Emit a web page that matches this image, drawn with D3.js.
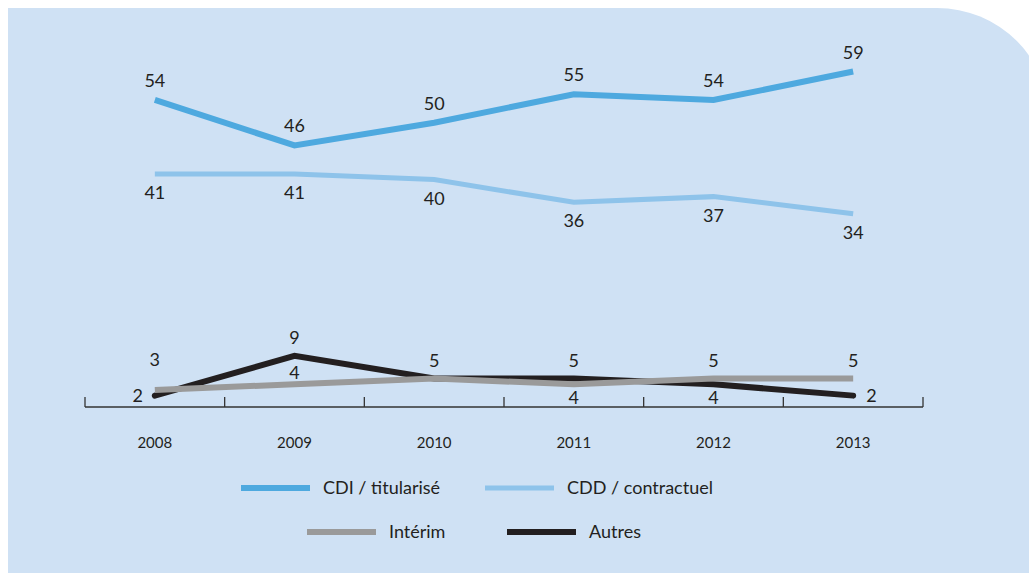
<!DOCTYPE html>
<html><head><meta charset="utf-8">
<script src="https://cdn.jsdelivr.net/npm/d3@7"></script>
<style>
html,body{margin:0;padding:0;background:#fff;}
svg{display:block;}
text{font-family:Lato,"Noto Sans",sans-serif;fill:#231f20;}
</style></head>
<body>
<svg id="c" width="1029" height="573"></svg>
<script>
const years = ["2008","2009","2010","2011","2012","2013"];
const cdi = [54, 46, 50, 55, 54, 59];
const cdd = [41, 41, 40, 36, 37, 34];
const interim = [3, 4, 5, 4, 5, 5];
const autres = [2, 9, 5, 5, 4, 2];
const seriesNames = ["CDI / titularisé", "CDD / contractuel", "Intérim", "Autres"];

const colors = {cdi:"#4ea9df", cdd:"#8ec3ea", interim:"#9a9a9a", autres:"#231f20"};

const svg = d3.select("#c");
// panel
const px0 = 8, py0 = 8, px1 = 1050, py1 = 573, r = 113;
svg.append("path")
  .attr("d", `M${px0},${py0} H${px1 - r} A${r},${r} 0 0 1 ${px1},${py0 + r} V${py1} H${px0} Z`)
  .attr("fill", "#cfe1f4");

const x = d3.scaleBand().domain(years).range([85, 923]);
const cx = d => x(d) + x.bandwidth() / 2;
const y = d3.scaleLinear().domain([0, 70]).range([407, 9]);

// axis
const axisG = svg.append("g").attr("transform", "translate(0,407)");
axisG.append("line").attr("x1", 85).attr("x2", 923).attr("stroke", "#333").attr("stroke-width", 1.3);
const tickPos = years.map(yv => x(yv)).concat([x(years[years.length-1]) + x.bandwidth()]);
axisG.selectAll("line.t").data(tickPos).join("line").attr("class","t")
  .attr("x1", d => d).attr("x2", d => d).attr("y1", -10).attr("y2", 0)
  .attr("stroke", "#333").attr("stroke-width", 1.3);
axisG.selectAll("text.yr").data(years).join("text").attr("class","yr")
  .attr("x", d => cx(d)).attr("y", 41).attr("text-anchor","middle")
  .attr("font-size", 15).text(d => d);

const line = d3.line().x((d,i) => cx(years[i])).y(d => y(d));
function drawLine(data, color, w, cap){
  svg.append("path").datum(data).attr("d", line).attr("fill","none")
    .attr("stroke", color).attr("stroke-width", w).attr("stroke-linecap", cap).attr("stroke-linejoin","miter");
}
drawLine(cdi, colors.cdi, 6, "butt");
drawLine(cdd, colors.cdd, 5, "butt");
drawLine(autres, colors.autres, 6, "round");
drawLine(interim, colors.interim, 6, "butt");

const fs = 18;
function label(xp, yp, t, anchor){
  svg.append("text").attr("x", xp).attr("y", yp).attr("text-anchor", anchor || "middle")
    .attr("font-size", fs).text(t);
}
// CDI above, CDD below
cdi.forEach((v,i) => label(cx(years[i]), y(v) - 13, v));
cdd.forEach((v,i) => label(cx(years[i]), y(v) + 25, v));
// low pair
years.forEach((yr, i) => {
  const a = interim[i], b = autres[i];
  const hi = Math.max(a,b), lo = Math.min(a,b);
  const xc = cx(yr);
  label(xc, y(hi) - (i === 0 ? 24 : 12), hi);
  if (a !== b) {
    if (i === 0) label(xc - 12, y(lo) + 6, lo, "end");
    else if (i === years.length - 1) label(xc + 13, y(lo) + 6, lo, "start");
    else if (hi - lo >= 3) label(xc, y(lo) - 5, lo);
    else label(xc, y(lo) + 20, lo);
  }
});

// legend
const legend = [
  {name: seriesNames[0], c: colors.cdi, w: 6, x: 241, y: 488},
  {name: seriesNames[1], c: colors.cdd, w: 5, x: 485, y: 488},
  {name: seriesNames[2], c: colors.interim, w: 6, x: 307, y: 532},
  {name: seriesNames[3], c: colors.autres, w: 6, x: 507, y: 532}
];
const lg = svg.append("g");
legend.forEach(l => {
  lg.append("line").attr("x1", l.x).attr("x2", l.x + 69).attr("y1", l.y).attr("y2", l.y)
    .attr("stroke", l.c).attr("stroke-width", l.w);
  lg.append("text").attr("x", l.x + 82).attr("y", l.y + 6).attr("font-size", fs).text(l.name);
});
</script>
</body></html>
